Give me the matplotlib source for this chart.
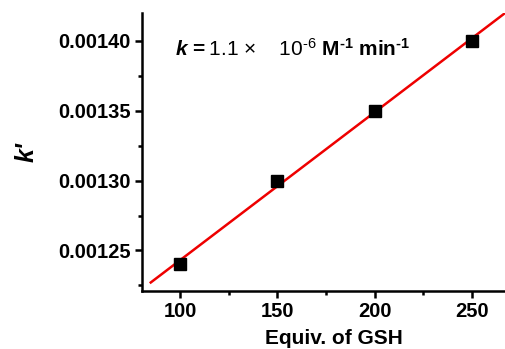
import numpy as np
import matplotlib
matplotlib.use("Agg")
import matplotlib.pyplot as plt
from matplotlib.ticker import MultipleLocator, FormatStrFormatter

plt.rcParams['font.family'] = ['Liberation Sans', 'DejaVu Sans']
plt.rcParams['mathtext.fontset'] = 'custom'
plt.rcParams['mathtext.rm'] = 'Liberation Sans'
plt.rcParams['mathtext.it'] = 'Liberation Sans:italic'
plt.rcParams['mathtext.bf'] = 'Liberation Sans:bold'
plt.rcParams['mathtext.bfit'] = 'Liberation Sans:bold:italic'

equiv = [100, 150, 200, 250]
k_prime = [0.00124, 0.00130, 0.00135, 0.00140]
x_ticks = [100, 150, 200, 250]
y_ticks = [0.00125, 0.00130, 0.00135, 0.00140]

fig = plt.figure(figsize=(5.05, 3.49), dpi=100)
ax = fig.add_axes([142/505, 1-291/349, (526-142)/505, (291-13)/349])

slope, intercept = np.polyfit(equiv, k_prime, 1)
xf = np.array([85, 280])
ax.plot(xf, slope*xf + intercept, color='#ee0000', lw=1.8, zorder=2)
ax.plot(equiv, k_prime, 's', color='black', ms=8, zorder=3)

ax.set_xlim(80.5, 277.7)
ax.set_ylim(0.001221, 0.00142)
ax.set_xticks(x_ticks)
ax.set_yticks(y_ticks)
ax.xaxis.set_minor_locator(MultipleLocator(25))
ax.yaxis.set_minor_locator(MultipleLocator(0.000025))
ax.yaxis.set_major_formatter(FormatStrFormatter('%.5f'))

for s in ['top', 'right']:
    ax.spines[s].set_visible(False)
for s in ['left', 'bottom']:
    ax.spines[s].set_linewidth(1.8)

ax.tick_params(which='major', direction='out', length=5, width=1.8, labelsize=14.5, pad=3)
ax.tick_params(which='minor', direction='out', length=3, width=1.8)
for lab in ax.get_xticklabels() + ax.get_yticklabels():
    lab.set_fontweight('bold')

ax.set_xlabel('Equiv. of GSH', fontsize=15, fontweight='bold', labelpad=6)
ax.set_ylabel("k'", fontsize=18, fontweight='bold', style='italic', labelpad=14)

ax.text((175-142)/384, (291-56)/278,
        "$\\mathbfit{k}\\,\\mathbf{{=}}$1.1 $\\times$    10$^{\u20106}$ $\\mathbf{M^{\u20101}\\ min^{\u20101}}$",
        transform=ax.transAxes, fontsize=15, va='baseline', ha='left')

fig.savefig('out.png', dpi=100)
